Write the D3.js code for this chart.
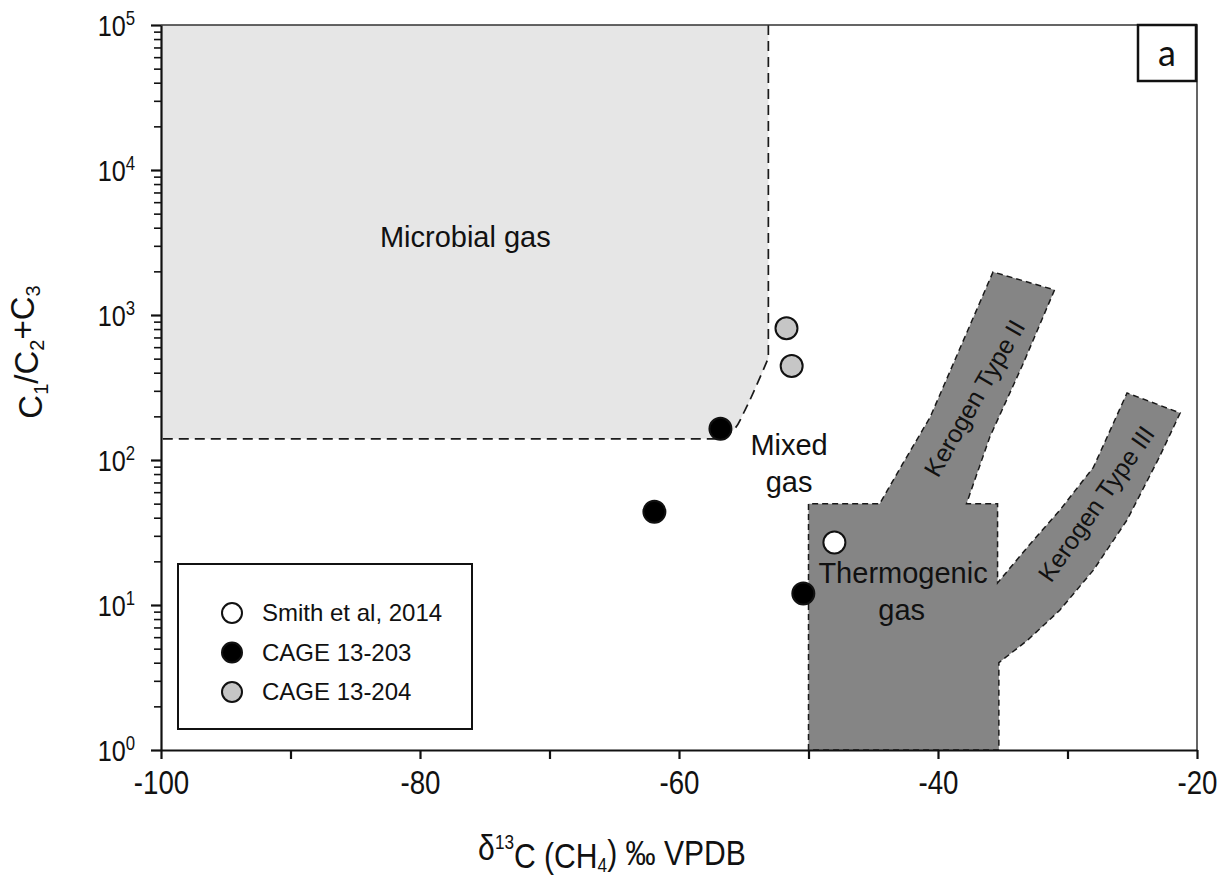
<!DOCTYPE html>
<html>
<head>
<meta charset="utf-8">
<script src="https://cdn.jsdelivr.net/npm/d3@7"></script>
<style>
  body { margin: 0; background: #fff; }
  svg { display: block; }
  text { font-family: "Liberation Sans", Arial, sans-serif; fill: #111; }
</style>
</head>
<body>
<svg id="chart" width="1220" height="879"></svg>
<script>
(function () {

    // series: delta13C (per mil), C1/(C2+C3)
    var smithX = [-48.0],
        smithY = [27],
        cage203X = [-56.8, -61.9, -50.4],
        cage203Y = [164, 44, 12],
        cage204X = [-51.7, -51.3],
        cage204Y = [810, 445];

    // field outlines
    var microbialX = [-100, -53.1, -53.1, -54.0, -54.9, -55.8, -57.2, -100],
        microbialY = [1e5, 1e5, 505, 329, 221, 161, 140, 140];

    var thermoX = [-50, -50, -44.5, -42.7, -40.6, -35.75, -31.0, -33.4, -36.0, -37.8, -35.4, -35.4,
                   -33.1, -30.6, -28.0, -25.4, -21.3, -22.9, -25.4, -28.0, -30.6, -33.1, -35.3, -35.3],
        thermoY = [1, 50, 50, 95, 198, 1980, 1490, 467, 144, 50, 50, 14.2,
                   25, 45, 89, 290, 211, 105, 38.6, 17.4, 9.2, 5.7, 4.0, 1];

    var xTicks = [-100, -90, -80, -70, -60, -50, -40, -30, -20],
        xLabels = [-100, -80, -60, -40, -20],
        yMajor = [1, 10, 100, 1000, 10000, 100000],
        yExp = ["0", "1", "2", "3", "4", "5"];

    var legendNames = ["Smith et al, 2014", "CAGE 13-203", "CAGE 13-204"],
        legendFills = ["#ffffff", "#000000", "#c6c6c6"];

    var svg = d3.select("#chart"),
        left = 161, right = 1197, top = 25, bottom = 750,
        narrow = 0.84;

    var x = d3.scaleLinear().domain([-100, -20]).range([left, right]),
        y = d3.scaleLog().domain([1, 1e5]).range([bottom, top]);

    var yMinor = [];
    yMajor.slice(0, -1).forEach(function (d) {
        for (var k = 2; k < 10; k++) yMinor.push(d * k);
    });

    function pts(xs, ys) {
        return xs.map(function (d, i) { return [x(d), y(ys[i])]; });
    }

    // microbial field: straight sides, rounded lower-right corner
    var mb = pts(microbialX, microbialY),
        corner = d3.line().curve(d3.curveCatmullRom.alpha(0.5))(mb.slice(2, 7)),
        edge = "M" + mb[1] + "L" + corner.slice(1) + "L" + mb[7];
    svg.append("path")
        .attr("d", "M" + mb[0] + "L" + edge.slice(1) + "Z")
        .attr("fill", "#e6e6e6");
    svg.append("path")
        .attr("d", edge)
        .attr("fill", "none")
        .attr("stroke", "#1a1a1a")
        .attr("stroke-width", 1.7)
        .attr("stroke-dasharray", "10,6");

    // thermogenic + kerogen field
    svg.append("path")
        .attr("d", "M" + pts(thermoX, thermoY).join("L") + "Z")
        .attr("fill", "#858585")
        .attr("stroke", "#1a1a1a")
        .attr("stroke-width", 1.5)
        .attr("stroke-dasharray", "6,4");

    // frame (top, right)
    svg.append("path")
        .attr("d", "M" + left + "," + top + "H" + right + "V" + bottom)
        .attr("fill", "none")
        .attr("stroke", "#333")
        .attr("stroke-width", 1.5);

    // axes
    var gx = svg.append("g")
        .attr("transform", "translate(0," + bottom + ")")
        .call(d3.axisBottom(x).tickValues(xTicks).tickSize(9).tickSizeOuter(0).tickFormat(""));
    gx.selectAll("line, path").attr("stroke", "#111").attr("stroke-width", 2.2);
    gx.selectAll(".tick").filter(function (d) { return xLabels.indexOf(d) >= 0; })
        .append("text")
            .attr("transform", "translate(0,44) scale(" + narrow + ",1)")
            .attr("text-anchor", "middle")
            .style("font-size", "33px")
            .text(function (d) { return d; });

    var gyMinor = svg.append("g")
        .attr("transform", "translate(" + left + ",0)")
        .call(d3.axisLeft(y).tickValues(yMinor).tickSize(7).tickSizeOuter(0).tickFormat(""));
    gyMinor.selectAll("line").attr("stroke", "#111").attr("stroke-width", 1.6);
    gyMinor.select(".domain").remove();

    var gy = svg.append("g")
        .attr("transform", "translate(" + left + ",0)")
        .call(d3.axisLeft(y).tickValues(yMajor).tickSize(10).tickSizeOuter(0).tickFormat(""));
    gy.selectAll("line, path").attr("stroke", "#111").attr("stroke-width", 2.2);
    var yt = gy.selectAll(".tick").append("text")
        .attr("transform", "translate(-26,0) scale(" + narrow + ",1)")
        .attr("dy", "0.35em")
        .attr("text-anchor", "end")
        .style("font-size", "30px");
    yt.append("tspan").text("10");
    yt.append("tspan")
        .attr("dy", "-0.55em")
        .style("font-size", "20px")
        .text(function (d, i) { return yExp[i]; });

    // region labels
    svg.append("text").attr("x", x(-76.5)).attr("y", 247)
        .attr("text-anchor", "middle").style("font-size", "29px").text("Microbial gas");
    svg.append("text").attr("x", x(-51.5)).attr("y", 455)
        .attr("text-anchor", "middle").style("font-size", "29px").text("Mixed");
    svg.append("text").attr("x", x(-51.5)).attr("y", 492)
        .attr("text-anchor", "middle").style("font-size", "29px").text("gas");
    svg.append("text").attr("x", x(-42.7)).attr("y", 583)
        .attr("text-anchor", "middle").style("font-size", "29px").text("Thermogenic");
    svg.append("text").attr("x", x(-42.8)).attr("y", 620)
        .attr("text-anchor", "middle").style("font-size", "29px").text("gas");
    svg.append("text")
        .attr("transform", "translate(" + x(-37.2) + "," + y(268) + ") rotate(-60)")
        .attr("text-anchor", "middle").attr("dominant-baseline", "central")
        .style("font-size", "25px").text("Kerogen Type II");
    svg.append("text")
        .attr("transform", "translate(" + x(-27.8) + "," + y(50) + ") rotate(-55)")
        .attr("text-anchor", "middle").attr("dominant-baseline", "central")
        .style("font-size", "25px").text("Kerogen Type III");

    // points
    function dots(xs, ys, fill) {
        svg.append("g").selectAll("circle")
            .data(xs)
            .join("circle")
                .attr("cx", function (d) { return x(d); })
                .attr("cy", function (d, i) { return y(ys[i]); })
                .attr("r", 11)
                .attr("fill", fill)
                .attr("stroke", "#111")
                .attr("stroke-width", 2);
    }
    dots(cage204X, cage204Y, legendFills[2]);
    dots(cage203X, cage203Y, legendFills[1]);
    dots(smithX, smithY, legendFills[0]);

    // legend
    var lg = svg.append("g").attr("transform", "translate(178,564)");
    lg.append("rect").attr("width", 294).attr("height", 165)
        .attr("fill", "#fff").attr("stroke", "#111").attr("stroke-width", 2);
    var item = lg.selectAll(".item")
        .data(legendNames)
        .join("g")
            .attr("transform", function (d, i) { return "translate(54," + (49 + i * 39.5) + ")"; });
    item.append("circle").attr("r", 10)
        .attr("fill", function (d, i) { return legendFills[i]; })
        .attr("stroke", "#111").attr("stroke-width", 2);
    item.append("text").attr("x", 30).attr("dy", "0.35em")
        .style("font-size", "24px").text(function (d) { return d; });

    // panel tag
    svg.append("rect").attr("x", 1138).attr("y", 25).attr("width", 58).attr("height", 56)
        .attr("fill", "#fff").attr("stroke", "#111").attr("stroke-width", 2.5);
    svg.append("text").attr("x", 1167).attr("y", 53).attr("dy", "0.35em")
        .attr("text-anchor", "middle").style("font-family", "Lato, 'Open Sans', sans-serif")
        .style("font-size", "36px").text("a");

    // axis titles
    var xt = svg.append("text")
        .attr("transform", "translate(612,860) scale(0.86,1)")
        .attr("text-anchor", "middle")
        .style("font-size", "35px");
    xt.append("tspan").text("δ");
    xt.append("tspan").attr("dy", "-0.55em").style("font-size", "20px").text("13");
    xt.append("tspan").attr("dy", "0.55em").text("C (CH");
    xt.append("tspan").attr("dy", "0.2em").style("font-size", "20px").text("4");
    xt.append("tspan").attr("dy", "-0.2em").text(") ‰ VPDB");

    var ytl = svg.append("text")
        .attr("transform", "translate(42,352) rotate(-90)")
        .attr("text-anchor", "middle")
        .style("font-size", "33px");
    ytl.append("tspan").text("C");
    ytl.append("tspan").attr("dy", "0.3em").style("font-size", "20px").text("1");
    ytl.append("tspan").attr("dy", "-0.3em").text("/C");
    ytl.append("tspan").attr("dy", "0.3em").style("font-size", "20px").text("2");
    ytl.append("tspan").attr("dy", "-0.3em").text("+C");
    ytl.append("tspan").attr("dy", "0.3em").style("font-size", "20px").text("3");

}());
</script>
</body>
</html>
